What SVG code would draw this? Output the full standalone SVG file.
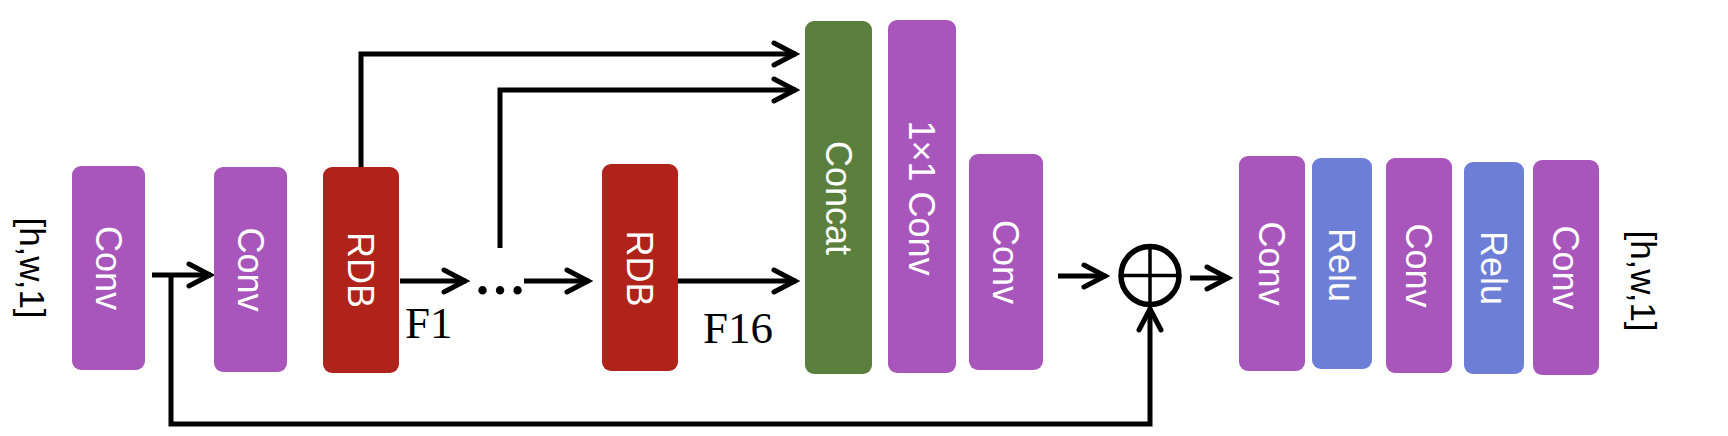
<svg xmlns="http://www.w3.org/2000/svg" width="1728" height="436" viewBox="0 0 1728 436">
<defs>
<style>
.purple{fill:#a856bc}
.red{fill:#b0231b}
.green{fill:#5b7f3c}
.blue{fill:#6c7ed6}
.lbl{font-family:"Liberation Sans",Arial,sans-serif;font-size:36px;fill:#ffffff;text-anchor:middle}
.dim{font-family:"Liberation Sans",Arial,sans-serif;font-size:35px;fill:#000000;text-anchor:middle}
.ser{font-family:"Liberation Serif","Times New Roman",serif;font-size:45px;fill:#000000}
.wire{fill:none;stroke:#000;stroke-width:5;stroke-linejoin:miter}
</style>
<marker id="ah" markerUnits="userSpaceOnUse" viewBox="-30 -20 40 40" refX="1" refY="0" markerWidth="40" markerHeight="40" orient="auto">
<path d="M-21,-11 L0,0 L-21,11" fill="none" stroke="#000" stroke-width="5" stroke-linecap="round" stroke-linejoin="miter"/>
</marker>
</defs>
<rect width="1728" height="436" fill="#ffffff"/>

<g id="connectors">
<path class="wire" d="M152,275 H211" marker-end="url(#ah)"/>
<path class="wire" d="M171,275 V424 H1150 V308" marker-end="url(#ah)"/>
<path class="wire" d="M361,168 V54 H796" marker-end="url(#ah)"/>
<path class="wire" d="M500,248 V90 H796" marker-end="url(#ah)"/>
<path class="wire" d="M400,281 H466" marker-end="url(#ah)"/>
<path class="wire" d="M524,281 H589" marker-end="url(#ah)"/>
<path class="wire" d="M678,281 H796" marker-end="url(#ah)"/>
<path class="wire" d="M1058,276 H1106" marker-end="url(#ah)"/>
<path class="wire" d="M1190,278 H1229" marker-end="url(#ah)"/>
</g>

<g id="input-label">
<text class="dim" transform="translate(20,268) rotate(90)" x="0" y="0">[h,w,1]</text>
</g>

<g id="conv1">
<rect class="purple" x="72" y="166" width="73" height="204" rx="9"/>
<text class="lbl" transform="translate(108.5,268) rotate(90)" x="0" y="13">Conv</text>
</g>

<g id="conv2">
<rect class="purple" x="214" y="167" width="73" height="205" rx="9"/>
<text class="lbl" transform="translate(250.5,269.5) rotate(90)" x="0" y="13">Conv</text>
</g>

<g id="rdb1">
<rect class="red" x="323" y="167" width="76" height="206" rx="9"/>
<text class="lbl" transform="translate(361,270) rotate(90)" x="0" y="13">RDB</text>
</g>

<g id="f1-label">
<text class="ser" x="405" y="338">F1</text>
</g>

<g id="dots">
<text x="500" y="294" text-anchor="middle" style="font-family:'Liberation Serif','Times New Roman',serif;font-size:52px;font-weight:bold;fill:#000">…</text>
</g>

<g id="rdb2">
<rect class="red" x="602" y="164" width="76" height="207" rx="9"/>
<text class="lbl" transform="translate(640,268.5) rotate(90)" x="0" y="13">RDB</text>
</g>

<g id="f16-label">
<text class="ser" x="703" y="343">F16</text>
</g>

<g id="concat">
<rect class="green" x="805" y="21" width="67" height="353" rx="9"/>
<text class="lbl" transform="translate(838.5,198) rotate(90)" x="0" y="13">Concat</text>
</g>

<g id="conv1x1">
<rect class="purple" x="888" y="20" width="68" height="353" rx="9"/>
<text class="lbl" transform="translate(922,198) rotate(90)" x="0" y="13">1×1 Conv</text>
</g>

<g id="conv3">
<rect class="purple" x="969" y="154" width="74" height="216" rx="9"/>
<text class="lbl" transform="translate(1006,262) rotate(90)" x="0" y="13">Conv</text>
</g>

<g id="add">
<circle cx="1150" cy="275.5" r="29" fill="#fff" stroke="#000" stroke-width="5.5"/>
<path d="M1121,275.5 H1179 M1150,246.5 V304.5" stroke="#000" stroke-width="3.5" fill="none"/>
</g>

<g id="conv4">
<rect class="purple" x="1239" y="156" width="66" height="215" rx="9"/>
<text class="lbl" transform="translate(1272,263.5) rotate(90)" x="0" y="13">Conv</text>
</g>

<g id="relu1">
<rect class="blue" x="1312" y="158" width="60" height="211" rx="9"/>
<text class="lbl" transform="translate(1342,265) rotate(90)" x="0" y="13">Relu</text>
</g>

<g id="conv5">
<rect class="purple" x="1386" y="158" width="66" height="215" rx="9"/>
<text class="lbl" transform="translate(1419,265.5) rotate(90)" x="0" y="13">Conv</text>
</g>

<g id="relu2">
<rect class="blue" x="1464" y="162" width="60" height="212" rx="9"/>
<text class="lbl" transform="translate(1494,268) rotate(90)" x="0" y="13">Relu</text>
</g>

<g id="conv6">
<rect class="purple" x="1533" y="160" width="66" height="215" rx="9"/>
<text class="lbl" transform="translate(1566,267.5) rotate(90)" x="0" y="13">Conv</text>
</g>

<g id="output-label">
<text class="dim" transform="translate(1631,281) rotate(90)" x="0" y="0">[h,w,1]</text>
</g>
</svg>
